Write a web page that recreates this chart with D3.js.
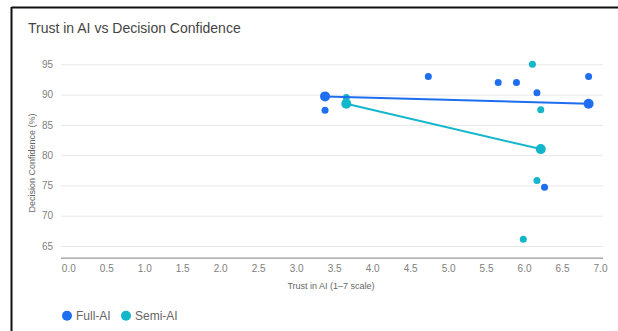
<!DOCTYPE html>
<html>
<head>
<meta charset="utf-8">
<script src="https://cdn.jsdelivr.net/npm/d3@7"></script>
<style>
  html, body { margin: 0; padding: 0; background: #fff; }
  svg { display: block; font-family: Arial, "Liberation Sans", sans-serif; }
</style>
</head>
<body>
<svg id="chart" width="618" height="331"></svg>
<script>
// Survey responses: trust in AI (1–7) vs decision confidence (%)
const seriesNames = ["Full-AI", "Semi-AI"];
const seriesColors = ["#1f6ef0", "#14b6cc"];

const fullTrust      = [3.38, 4.74, 5.66, 5.90, 6.17, 6.85, 6.27];
const fullConfidence = [87.4, 93.0, 92.0, 92.0, 90.3, 93.0, 74.7];
const semiTrust      = [3.66, 6.11, 6.22, 6.17, 5.99];
const semiConfidence = [89.5, 95.0, 87.5, 75.8, 66.1];

// Group mean lines (low-trust vs high-trust end)
const fullLineTrust      = [3.38, 6.85];
const fullLineConfidence = [89.7, 88.5];
const semiLineTrust      = [3.66, 6.22];
const semiLineConfidence = [88.5, 81.0];

const xTicks = [0, 0.5, 1, 1.5, 2, 2.5, 3, 3.5, 4, 4.5, 5, 5.5, 6, 6.5, 7];
const yTicks = [65, 70, 75, 80, 85, 90, 95];

const svg = d3.select("#chart");

// Frame
svg.append("line").attr("x1", 11.5).attr("x2", 618).attr("y1", 7.5).attr("y2", 7.5)
  .attr("stroke", "#111").attr("stroke-width", 2);
svg.append("line").attr("x1", 11.5).attr("x2", 11.5).attr("y1", 7).attr("y2", 331)
  .attr("stroke", "#111").attr("stroke-width", 2);

const plotLeft = 61, plotRight = 603;
const x = d3.scaleLinear().domain([0, 7]).range([68.3, 600]);
const y = d3.scaleLinear().domain([65, 95]).range([246, 64.3]);
const baselineY = y(63);

// Title
svg.append("text").attr("x", 28).attr("y", 33)
  .attr("font-size", 14).attr("fill", "#444")
  .text("Trust in AI vs Decision Confidence");

// Horizontal gridlines
const yAxis = d3.axisLeft(y).tickValues(yTicks).tickFormat(d3.format("d"))
  .tickSize(-(plotRight - plotLeft)).tickPadding(8);
const gy = svg.append("g").attr("transform", `translate(${plotLeft},0)`).call(yAxis);
gy.select(".domain").remove();
gy.selectAll(".tick line").attr("stroke", "#e8e8e8").attr("stroke-width", 1);
gy.selectAll(".tick text").attr("fill", "#808080").attr("font-size", 10)
  .attr("font-family", "Arial, 'Liberation Sans', sans-serif");

// X axis with baseline
const xAxis = d3.axisBottom(x).tickValues(xTicks).tickFormat(d3.format(".1f"))
  .tickSize(0).tickPadding(7);
const gx = svg.append("g").attr("transform", `translate(0,${baselineY})`).call(xAxis);
gx.select(".domain").remove();
gx.selectAll(".tick text").attr("fill", "#808080").attr("font-size", 10)
  .attr("font-family", "Arial, 'Liberation Sans', sans-serif");
svg.append("line").attr("x1", plotLeft).attr("x2", plotRight)
  .attr("y1", baselineY).attr("y2", baselineY)
  .attr("stroke", "#9a9a9a").attr("stroke-width", 1.2);

// Axis titles
svg.append("text").attr("x", 331).attr("y", 289).attr("text-anchor", "middle")
  .attr("font-size", 9).attr("fill", "#666").text("Trust in AI (1–7 scale)");
svg.append("text").attr("transform", "translate(35,163) rotate(-90)")
  .attr("text-anchor", "middle").attr("font-size", 9).attr("fill", "#666")
  .text("Decision Confidence (%)");

const line = d3.line().x(d => x(d[0])).y(d => y(d[1]));

const series = [
  { trust: fullTrust, conf: fullConfidence, lt: fullLineTrust, lc: fullLineConfidence, color: seriesColors[0] },
  { trust: semiTrust, conf: semiConfidence, lt: semiLineTrust, lc: semiLineConfidence, color: seriesColors[1] }
];

series.forEach(s => {
  const pts = s.trust.map((t, i) => [t, s.conf[i]]);
  svg.append("g").selectAll("circle").data(pts).join("circle")
    .attr("cx", d => x(d[0])).attr("cy", d => y(d[1])).attr("r", 3.5)
    .attr("fill", s.color);
});

series.forEach(s => {
  const lp = s.lt.map((t, i) => [t, s.lc[i]]);
  svg.append("path").datum(lp).attr("d", line)
    .attr("fill", "none").attr("stroke", s.color).attr("stroke-width", 2);
  svg.append("g").selectAll("circle").data(lp).join("circle")
    .attr("cx", d => x(d[0])).attr("cy", d => y(d[1])).attr("r", 5)
    .attr("fill", s.color);
});

// Legend
const legend = svg.append("g");
const legendX = [67, 126];
seriesNames.forEach((name, i) => {
  legend.append("circle").attr("cx", legendX[i]).attr("cy", 315.7).attr("r", 5)
    .attr("fill", seriesColors[i]);
  legend.append("text").attr("x", legendX[i] + 9).attr("y", 320)
    .attr("font-size", 12).attr("fill", "#666").text(name);
});
</script>
</body>
</html>
